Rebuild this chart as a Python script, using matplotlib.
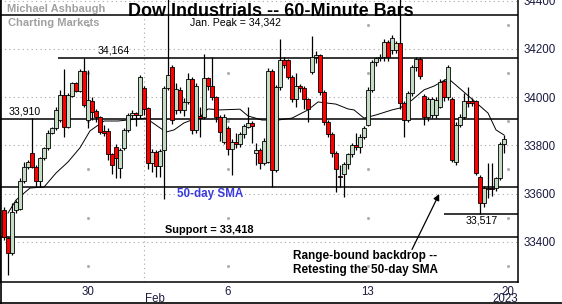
import matplotlib
matplotlib.use('Agg')
import matplotlib.pyplot as plt
import numpy as np

# ---------------- data (60-minute bars, Jan 25 - Feb 17, 2023) ----------------
opens = [33532, 33414, 33352, 33532, 33535, 33653, 33709, 33767, 33712, 33653,
         33746, 33788, 33853, 33871, 33905, 34009, 33878, 34005, 34060, 34026,
         34110, 33905, 33986, 33944, 33916, 33860, 33861, 33764, 33795, 33705,
         33788, 33864, 33926, 33935, 33926, 34037, 33954, 33726, 33774, 33714,
         33781, 34037, 34127, 33947, 34030, 33947, 33981, 34074, 33864, 33922,
         33919, 34078, 34046, 33999, 33919, 33815, 33871, 33783, 33815, 33804,
         33847, 33878, 33891, 33767, 33781, 33728, 33732, 34109, 33698, 34041,
         34154, 34152, 34085, 33991, 34046, 34037, 33991, 34106, 34168, 34175,
         34023, 33898, 33847, 33767, 33672, 33681, 33723, 33764, 33801, 33795,
         33836, 33885, 34030, 34147, 34161, 34168, 34228, 34196, 34196, 34224,
         33974, 33905, 34016, 34127, 34157, 34005, 33916, 33926, 33926, 33961,
         34067, 33999, 33991, 33732, 33885, 33919, 33986, 33986, 33986, 33670,
         33559, 33622, 33622, 33622, 33663, 33806]
closes = [33421, 33352, 33522, 33566, 33653, 33712, 33732, 33712, 33653, 33746,
          33788, 33853, 33871, 33947, 34009, 33878, 34009, 34060, 34026, 34110,
          33968, 33988, 33940, 33916, 33857, 33852, 33764, 33718, 33746, 33781,
          33864, 33926, 33935, 33926, 34085, 33950, 33726, 33774, 33714, 33778,
          34037, 34092, 33905, 34033, 33947, 33981, 34074, 33864, 34046, 33912,
          34078, 34046, 33999, 33919, 33857, 33919, 33783, 33815, 33804, 33847,
          33880, 33891, 33882, 33781, 33728, 33819, 34109, 33698, 34041, 34154,
          34134, 34085, 33991, 34046, 34037, 33991, 33950, 34168, 34175, 34023,
          33898, 33847, 33767, 33700, 33668, 33723, 33764, 33801, 33792, 33836,
          33871, 34030, 34147, 34161, 34168, 34228, 34168, 34244, 34224, 33974,
          33905, 34016, 34127, 34157, 34088, 33916, 33991, 33991, 33988, 34064,
          33999, 34124, 33739, 33885, 33919, 33986, 33974, 33977, 33684, 33559,
          33622, 33620, 33619, 33663, 33806, 33826]
highs = [33545, 33421, 33559, 33575, 33663, 33732, 33740, 33912, 33720, 33753,
         33795, 33864, 33878, 33961, 34030, 34116, 34016, 34064, 34064, 34116,
         34164, 34112, 33999, 33950, 33922, 33885, 33870, 33770, 33806, 33790,
         33870, 33935, 33945, 33940, 34092, 34045, 33960, 33785, 33780, 33785,
         34045, 34420, 34135, 34060, 34040, 33995, 34100, 34085, 34060, 33960,
         34180, 34085, 34168, 34005, 33925, 33930, 33880, 33825, 33850, 33855,
         33890, 33961, 33900, 33810, 33790, 33830, 34120, 34115, 34050, 34240,
         34165, 34160, 34090, 34100, 34055, 34045, 33998, 34255, 34190, 34180,
         34030, 33905, 33855, 33775, 33718, 33730, 33770, 33810, 33850, 33845,
         33880, 34040, 34155, 34168, 34180, 34240, 34235, 34258, 34232, 34420,
         33985, 34025, 34135, 34168, 34165, 34015, 34000, 34000, 34000, 34075,
         34075, 34134, 34000, 33895, 33930, 34016, 34041, 33995, 33990, 33675,
         33630, 33725, 33725, 33670, 33815, 33842]
lows = [33407, 33262, 33345, 33520, 33530, 33645, 33700, 33705, 33628, 33628,
        33739, 33780, 33847, 33864, 33898, 33836, 33871, 33999, 34023, 34020,
        33961, 33871, 33905, 33895, 33845, 33840, 33740, 33680, 33663, 33663,
        33780, 33855, 33915, 33880, 33915, 33925, 33700, 33690, 33670, 33670,
        33576, 34030, 33890, 33930, 33935, 33920, 33970, 33845, 33850, 33836,
        33910, 34030, 33990, 33895, 33820, 33805, 33760, 33677, 33790, 33795,
        33830, 33870, 33810, 33720, 33700, 33720, 33725, 33628, 33690, 34030,
        34120, 34075, 33980, 33960, 34020, 33950, 33898, 34095, 34140, 34010,
        33885, 33835, 33750, 33608, 33628, 33587, 33700, 33750, 33780, 33770,
        33825, 33880, 34020, 34130, 34150, 34150, 34150, 34180, 34185, 33950,
        33836, 33895, 34005, 34110, 34075, 33885, 33900, 33915, 33915, 33955,
        33985, 33990, 33732, 33720, 33875, 33910, 33960, 33965, 33675, 33517,
        33545, 33580, 33590, 33610, 33655, 33767]

# short-term moving average (bar index, value)
sma_idx = [1, 3, 6.5, 10, 13, 16, 19, 21.5, 25, 28.5, 35.5, 38, 40.5, 42.5, 45,
           49, 51, 54, 59, 61, 64.5, 68.5, 72, 76, 78.5, 83, 86, 87.5, 90, 93,
           97, 99, 102, 105, 107.5, 111, 115, 117, 121, 123, 125]
sma_val = [33519, 33573, 33623, 33627, 33685, 33731, 33790, 33860, 33901, 33901,
           33913, 33884, 33855, 33864, 33893, 33918, 33951, 33947, 33950, 33922,
           33905, 33905, 33913, 33947, 33980, 33971, 33951, 33947, 33913, 33926,
           33947, 33955, 33988, 34030, 34046, 34078, 34021, 33992, 33934, 33864,
           33843]

jan_peak = 34342
resist = 34164
pivot = 33910
sma50 = 33626
support = 33418
recent_low = 33517

week_idx = [21, 56, 91, 126]
week_labels = ['30', '6', '13', '20']
month_idx = 35
yticks = [33400, 33600, 33800, 34000, 34200, 34400]

# ---------------- figure ----------------
fig = plt.figure(figsize=(5.62, 3.04), dpi=100)
ax = fig.add_axes([0, 22 / 304, 518 / 562, 282 / 304])
ax.set_xlim(-1, 128.5)
ax.set_ylim(33233, 34403)

grid_c = '#a8a8a8'
for v in yticks:
    ax.axhline(v, color=grid_c, lw=0.8, ls=(0, (1, 3)), zorder=0)
ax.axvline(month_idx, color=grid_c, lw=0.8, ls=(0, (1, 3)), zorder=0)
odd_hundreds = [33300, 33500, 33700, 33900, 34100, 34300]
for w in week_idx:
    ax.plot([w] * len(odd_hundreds), odd_hundreds, ls='none', marker='s',
            ms=1.0, color=grid_c, zorder=0)

# horizontal reference lines
ax.axhline(jan_peak, color='black', lw=1.1, zorder=1)
ax.hlines(resist, 13.5, 128.5, color='black', lw=1.1, zorder=1)
ax.axhline(pivot, color='black', lw=1.1, zorder=1)
ax.axhline(sma50, color='black', lw=1.1, zorder=1)
ax.axhline(support, color='black', lw=1.1, zorder=1)
ax.hlines(recent_low, 110, 128.5, color='black', lw=1.1, zorder=1)

# moving average
ax.plot(sma_idx, sma_val, color='black', lw=0.7, zorder=2)

# candles
idx = np.arange(len(opens))
o = np.array(opens, float)
c = np.array(closes, float)
ax.vlines(idx, lows, highs, color='black', lw=0.9, zorder=3)
up = c >= o
body_bottom = np.minimum(o, c)
body_h = np.maximum(np.abs(c - o), 1.5)
colors = np.where(up, '#c4dcc4', '#ff0000')
ax.bar(idx, body_h, bottom=body_bottom, width=0.84, color=colors,
       edgecolor='black', linewidth=0.6, zorder=4)

# axes styling
ax.spines['top'].set_visible(False)
for s in ['left', 'right', 'bottom']:
    ax.spines[s].set_linewidth(1.1)
ax.yaxis.tick_right()
ax.set_yticks(yticks)
ax.set_yticklabels([str(v) for v in yticks])
ax.tick_params(axis='y', length=0, pad=4, labelsize=8.3, labelcolor='#1a1a40')
ax.set_xticks(week_idx)
ax.set_xticklabels(week_labels)
ax.tick_params(axis='x', length=0, pad=3, labelsize=8.3, labelcolor='#1a1a40')
for lab in ax.get_xticklabels() + ax.get_yticklabels():
    lab.set_family('Liberation Sans')

ax.text(month_idx + 0.3, -0.040, 'Feb', transform=ax.get_xaxis_transform(),
        ha='left', va='top', fontsize=8.3, color='#1a1a40', family='Liberation Sans',
        clip_on=False)
ax.text(125.3, -0.040, '2023', transform=ax.get_xaxis_transform(),
        ha='center', va='top', fontsize=8.3, color='#1a1a40', family='Liberation Sans',
        clip_on=False)

# annotations
lab_font = dict(family='Liberation Sans', fontsize=7.6, color='black')
ax.text(27.5, resist + 8, '34,164', ha='center', va='bottom', **lab_font)
ax.text(5.1, pivot + 8, '33,910', ha='center', va='bottom', **lab_font)
ax.text(46.5, jan_peak - 10, 'Jan. Peak = 34,342', ha='left', va='top', **lab_font)
ax.text(119.5, recent_low - 10, '33,517', ha='center', va='top', **lab_font)

bold_font = dict(family='Liberation Sans', fontweight='bold')
ax.text(43.2, 33600, '50-day SMA', ha='left', va='center', fontsize=8.4,
        color='#3b3be0', **bold_font)
ax.text(40.2, support + 8, 'Support = 33,418', ha='left', va='bottom', fontsize=7.9,
        color='black', **bold_font)
ax.text(90.3, 33312, 'Range-bound backdrop --\nRetesting the 50-day SMA',
        ha='center', va='center', fontsize=8.5, color='black', linespacing=1.15,
        **bold_font)
ax.annotate('', xy=(108.8, 33598), xytext=(102, 33368),
            arrowprops=dict(arrowstyle='-|>', color='black', lw=0.9,
                            mutation_scale=9, shrinkA=0, shrinkB=0))

# title and branding
fig.text(271 / 562, 1 - 15.7 / 304, 'Dow Industrials -- 60-Minute Bars', ha='center',
         va='baseline', fontsize=13, fontweight='bold', family='Liberation Sans')
fig.text(7 / 562, 1 - 11.7 / 304, 'Michael Ashbaugh', ha='left', va='baseline',
         fontsize=8, fontweight='bold', color='#a0a0a0', family='Liberation Sans')
fig.text(8 / 562, 1 - 26.5 / 304, 'Charting Markets', ha='left', va='baseline',
         fontsize=8, fontweight='bold', color='#a0a0a0', family='Liberation Sans')

# outer frame lines (left and bottom)
fig.add_artist(plt.Line2D([0.5 / 562, 0.5 / 562], [0, 1], color='black', lw=1.2,
                          transform=fig.transFigure))
fig.add_artist(plt.Line2D([0, 1], [1.5 / 304, 1.5 / 304], color='black', lw=1.2,
                          transform=fig.transFigure))

fig.savefig('out.png', dpi=100)
